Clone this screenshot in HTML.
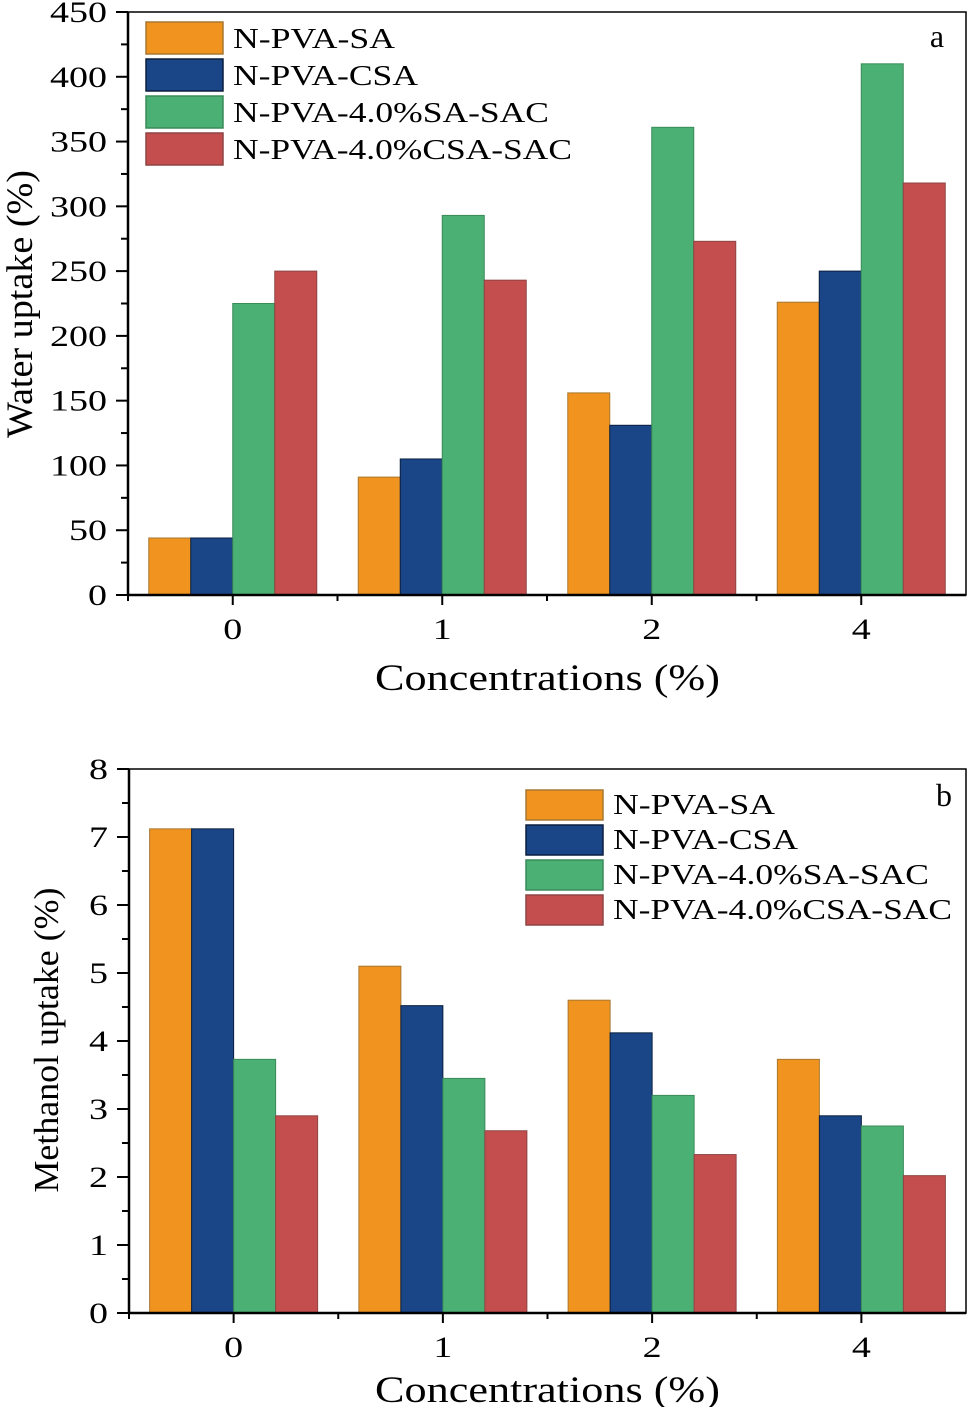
<!DOCTYPE html>
<html><head><meta charset="utf-8"><style>
html,body{margin:0;padding:0;background:#fff;}
svg{display:block;font-family:"Liberation Serif",serif;}
</style></head><body>
<svg id="fig" width="969" height="1407" viewBox="0 0 969 1407" xmlns="http://www.w3.org/2000/svg"></svg>
<script>
const categories = ["0","1","2","4"];
const seriesNames = ["N-PVA-SA","N-PVA-CSA","N-PVA-4.0%SA-SAC","N-PVA-4.0%CSA-SAC"];
const waterSA = [44, 91, 156, 226];
const waterCSA = [44, 105, 131, 250];
const waterSAC = [225, 293, 361, 410];
const waterCSASAC = [250, 243, 273, 318];
const methSA = [7.12, 5.1, 4.6, 3.73];
const methCSA = [7.12, 4.52, 4.12, 2.9];
const methSAC = [3.73, 3.45, 3.2, 2.75];
const methCSASAC = [2.9, 2.68, 2.33, 2.02];
const waterTicks = [0,50,100,150,200,250,300,350,400,450];
const methTicks = [0,1,2,3,4,5,6,7,8];
const colors = ["#F0941F","#1A4687","#4AB074","#C44E4E"];
const strokes = ["#a87830","#0b1f3f","#3a8a5a","#8e4444"];
const legendWidths = [162,185,316,339];

const NS="http://www.w3.org/2000/svg";
const svg=document.getElementById('fig');
function mk(tag, attrs, parent){const e=document.createElementNS(NS,tag);for(const k in attrs)e.setAttribute(k,attrs[k]);(parent||svg).appendChild(e);return e;}

function panel(cfg){
  const g=mk('g',{});
  
  
  const L=cfg.left,R=cfg.right,T=cfg.top,B=cfg.bottom;
  const yMax=cfg.ticks[cfg.ticks.length-1];
  const y=v=>B-(v/yMax)*(B-T);
  const band=(R-L)/categories.length;
  const xc=i=>L+band*(i+0.5);
  const bw=42;
  cfg.series.forEach((s,si)=>{
    s.forEach((v,i)=>{
      const r=mk('rect',{x:xc(i)-2*bw+si*bw,y:y(v),width:bw,height:B-y(v),fill:colors[si],stroke:strokes[si],'stroke-width':1},g);
      
      
    });
  });
  const fr=mk('rect',{x:L,y:T,width:R-L,height:B-T,fill:'none',stroke:'#000','stroke-width':1.5},g);
  
  
  mk('line',{x1:L,y1:T,x2:L,y2:B,stroke:'#000','stroke-width':2.5},g);
  mk('line',{x1:L,y1:B,x2:R,y2:B,stroke:'#000','stroke-width':2.5},g);
  cfg.ticks.forEach((t,i)=>{
    mk('line',{x1:L-12,y1:y(t),x2:L,y2:y(t),stroke:'#000','stroke-width':2},g);
    if(i<cfg.ticks.length-1){const m=(t+cfg.ticks[i+1])/2;mk('line',{x1:L-7,y1:y(m),x2:L,y2:y(m),stroke:'#000','stroke-width':2},g);}
    const s=String(t);
    const tx=mk('text',{x:L-21-s.length*19,y:y(t)+10,'font-size':30,textLength:s.length*19,lengthAdjust:'spacingAndGlyphs'},g);
    tx.textContent=s;
    
    
  });
  categories.forEach((c,i)=>{
    mk('line',{x1:xc(i),y1:B,x2:xc(i),y2:B+10,stroke:'#000','stroke-width':2},g);
    mk('line',{x1:L+band*i,y1:B,x2:L+band*i,y2:B+6,stroke:'#000','stroke-width':2},g);
    const tx=mk('text',{x:xc(i)-9.5,y:B+44,'font-size':30,textLength:19,lengthAdjust:'spacingAndGlyphs'},g);
    tx.textContent=c;
    
    
  });
  const xt=mk('text',{x:375,y:cfg.xTitleY,'font-size':37,textLength:345,lengthAdjust:'spacingAndGlyphs'},g);
  xt.textContent='Concentrations (%)';
  
  
  const yt=mk('text',{x:-cfg.yTitleLen/2,y:0,'font-size':cfg.yTitleFont,textLength:cfg.yTitleLen,lengthAdjust:'spacingAndGlyphs',transform:`translate(${cfg.yTitleX},${cfg.yTitleY}) rotate(-90)`},g);
  yt.textContent=cfg.yTitle;
  
  
  const pl=mk('text',{x:cfg.labelX,y:cfg.labelY,'font-size':32,'text-anchor':'middle'},g);
  pl.textContent=cfg.key;
  
  
  seriesNames.forEach((n,si)=>{
    const ly=cfg.legY+si*cfg.legStep;
    const r=mk('rect',{x:cfg.legX,y:ly,width:77,height:cfg.legStep-5,fill:colors[si],stroke:strokes[si],'stroke-width':1.5},g);
    
    
    const t=mk('text',{x:cfg.legX+87,y:ly+cfg.legStep-11,'font-size':cfg.legFont,textLength:legendWidths[si],lengthAdjust:'spacingAndGlyphs'},g);
    t.textContent=n;
    
    
  });
}
panel({name:'water-uptake-chart',key:'a',left:128,right:966,top:12,bottom:595,ticks:waterTicks,
  series:[waterSA,waterCSA,waterSAC,waterCSASAC],xTitleY:690,yTitle:'Water uptake (%)',yTitleX:32,yTitleY:304,yTitleLen:268,yTitleFont:37,
  labelX:937,labelY:47,legX:146,legY:22,legStep:37,legFont:29});
panel({name:'methanol-uptake-chart',key:'b',left:129,right:966,top:769,bottom:1313,ticks:methTicks,
  series:[methSA,methCSA,methSAC,methCSASAC],xTitleY:1402,yTitle:'Methanol uptake (%)',yTitleX:58,yTitleY:1040,yTitleLen:305,yTitleFont:35,
  labelX:944,labelY:806,legX:526,legY:790,legStep:35,legFont:28});
</script>
</body></html>
